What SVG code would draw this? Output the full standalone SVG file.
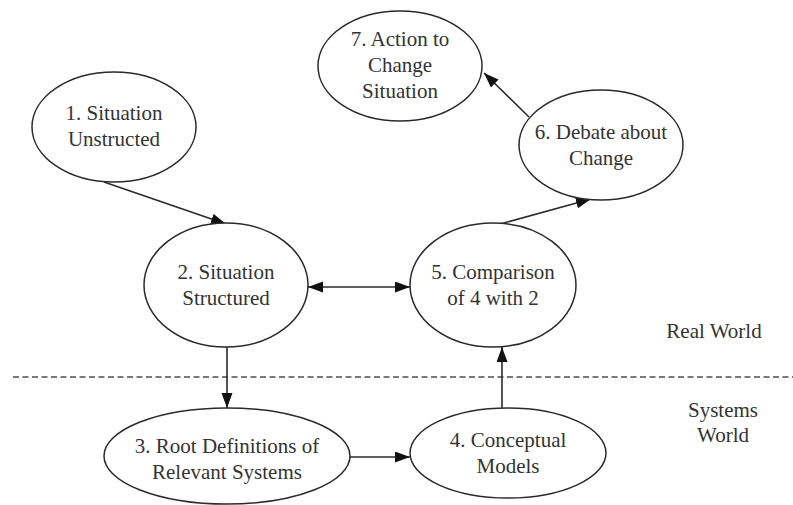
<svg xmlns="http://www.w3.org/2000/svg" width="793" height="505" viewBox="0 0 793 505">
  <style>
    .node ellipse { fill: #ffffff; stroke: #2a2a2a; stroke-width: 1.5; }
    .lbl { font-family: "Liberation Serif", "Times New Roman", serif; font-size: 21px; fill: #333333; text-anchor: middle; }
    .edge { stroke: #2a2a2a; stroke-width: 1.6; fill: none; marker-end: url(#arrow); }
    .divider { stroke: #7a7a7a; stroke-width: 2; stroke-dasharray: 6 3.5; }
  </style>
  <defs>
    <marker id="arrow" markerUnits="userSpaceOnUse" markerWidth="16" markerHeight="12" refX="15" refY="5.5" orient="auto-start-reverse">
      <path d="M0,0 L15,5.5 L0,11 z" fill="#111111"/>
    </marker>
  </defs>
  <rect width="793" height="505" fill="#ffffff"/>

  <!-- boundary between the two worlds -->
  <line class="divider" x1="13" y1="377" x2="793" y2="377"/>
  <text class="lbl" x="714" y="338">Real World</text>
  <text class="lbl" x="723" y="417">Systems</text>
  <text class="lbl" x="723" y="442">World</text>

  <g id="connectors">
    <line class="edge" x1="104" y1="182" x2="226" y2="224"/>
    <line class="edge" x1="529" y1="117" x2="484" y2="73"/>
    <line class="edge" x1="500" y1="224" x2="591" y2="199"/>
    <line class="edge" x1="308" y1="287" x2="410" y2="287" marker-start="url(#arrow)"/>
    <line class="edge" x1="227" y1="347" x2="227" y2="408"/>
    <line class="edge" x1="350" y1="457" x2="410" y2="457"/>
    <line class="edge" x1="502" y1="408" x2="502" y2="347"/>
  </g>

  <g id="n1" class="node">
    <ellipse cx="114" cy="127" rx="82" ry="55"/>
    <text class="lbl" x="114" y="120">1. Situation</text>
    <text class="lbl" x="114" y="146">Unstructed</text>
  </g>
  <g id="n2" class="node">
    <ellipse cx="226" cy="285" rx="82" ry="62"/>
    <text class="lbl" x="226" y="279">2. Situation</text>
    <text class="lbl" x="226" y="305">Structured</text>
  </g>
  <g id="n3" class="node">
    <ellipse cx="227" cy="456" rx="123" ry="48"/>
    <text class="lbl" x="227" y="453">3. Root Definitions of</text>
    <text class="lbl" x="227" y="479">Relevant Systems</text>
  </g>
  <g id="n4" class="node">
    <ellipse cx="508" cy="453" rx="98" ry="45"/>
    <text class="lbl" x="508" y="447">4. Conceptual</text>
    <text class="lbl" x="508" y="473">Models</text>
  </g>
  <g id="n5" class="node">
    <ellipse cx="493" cy="285" rx="83" ry="62"/>
    <text class="lbl" x="493" y="279">5. Comparison</text>
    <text class="lbl" x="493" y="305">of 4 with 2</text>
  </g>
  <g id="n6" class="node">
    <ellipse cx="601" cy="145" rx="82" ry="55"/>
    <text class="lbl" x="601" y="139">6. Debate about</text>
    <text class="lbl" x="601" y="165">Change</text>
  </g>
  <g id="n7" class="node">
    <ellipse cx="400" cy="66" rx="82" ry="55"/>
    <text class="lbl" x="400" y="46">7. Action to</text>
    <text class="lbl" x="400" y="72">Change</text>
    <text class="lbl" x="400" y="98">Situation</text>
  </g>
</svg>
